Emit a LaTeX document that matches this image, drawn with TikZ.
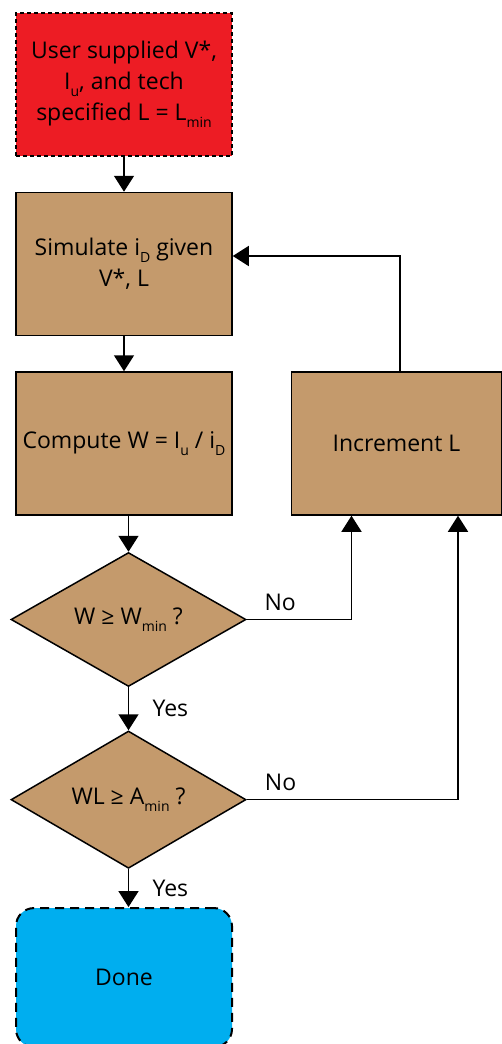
\documentclass[tikz,border=0pt]{standalone}
\usepackage{fontspec}
\setmainfont{Open Sans}
\usetikzlibrary{arrows.meta, positioning, shapes.geometric}
\definecolor{startred}{HTML}{ED1C24}
\definecolor{stepbrown}{HTML}{C49A6C}
\definecolor{doneblue}{HTML}{00AEEF}
\newcommand{\lowsub}[1]{\raisebox{-0.55ex}{\fontsize{14}{14}\selectfont #1}}

\begin{document}
\begin{tikzpicture}[
    x=1pt, y=1pt,
    node distance=35pt and 58pt,
    block/.style={rectangle, draw=black, fill=stepbrown, line width=1.5pt, minimum height=143pt, minimum width=216pt, align=center, inner sep=0pt, font=\fontsize{23}{31}\selectfont},
    start/.style={block, fill=startred, dash pattern=on 4pt off 3pt},
    finish/.style={block, fill=doneblue, line width=2pt, dash pattern=on 9pt off 6pt, rounded corners=18pt, minimum height=139pt},
    decision/.style={diamond, draw=black, fill=stepbrown, line width=1.5pt, minimum width=235pt, minimum height=134pt, inner sep=0pt, font=\fontsize{23}{31}\selectfont},
    arr/.style={-{Triangle[length=16pt, width=20pt]}, line width=1.5pt},
    lbl/.style={font=\fontsize{23}{26}\selectfont}
]
    \useasboundingbox (0,0) rectangle (502,-1044);

    \node[start] (input) at (124,-84.5) {User supplied V*,\\I\lowsub{u}, and tech\\specified L = L\lowsub{min}};
    \node[block, below=of input] (sim) {Simulate i\lowsub{D} given\\V*, L};
    \node[block, below=of sim] (comp) {Compute W = I\lowsub{u} / i\lowsub{D}};
    \node[block, right=of comp, minimum width=210pt] (inc) {Increment L};
    \node[decision, below=36pt of comp, xshift=4.5pt] (chkw) {W ≥ W\lowsub{min} ?};
    \node[decision, below=43pt of chkw] (chka) {WL ≥ A\lowsub{min} ?};
    \node[finish, below=38pt of chka, xshift=-4.5pt] (done) {Done};

    \draw[arr] (input) -- (sim);
    \draw[arr] (sim) -- (comp);
    \draw[arr] (chkw.north |- comp.south) -- (chkw.north);
    \draw[arr] (chkw) -- node[right=20pt, lbl] {Yes} (chka);
    \draw[arr] (chka.south) -- node[right=20pt, lbl] {Yes} (chka.south |- done.north);
    \draw[arr] (chkw.east) -| node[pos=0.16, above=5pt, lbl] {No} ([xshift=-45pt]inc.south);
    \draw[arr] (chka.east) -| node[pos=0.08, above=5pt, lbl] {No} ([xshift=61.5pt]inc.south);

    % loop back
    \draw[arr] ([xshift=3.5pt]inc.north) |- ([yshift=8pt]sim.east);
\end{tikzpicture}
\end{document}
